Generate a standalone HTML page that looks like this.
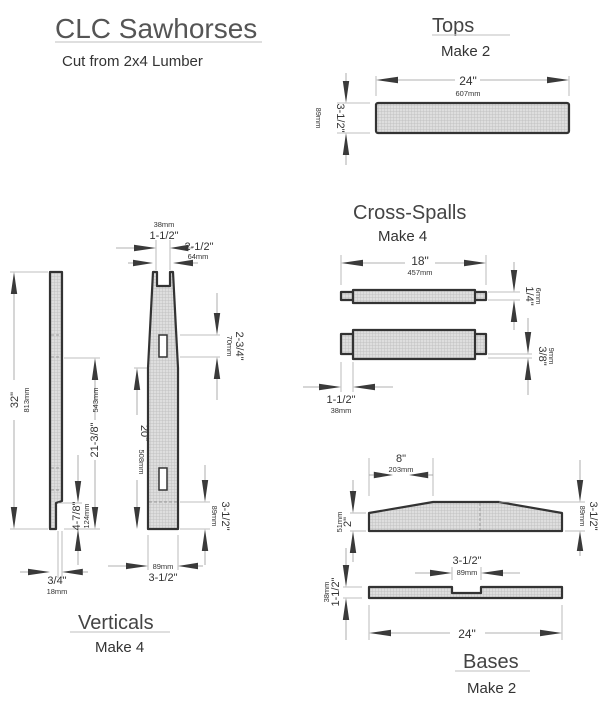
<!DOCTYPE html>
<html><head><meta charset="utf-8">
<style>
html,body{margin:0;padding:0;background:#fff;}
svg{display:block;}
text{font-family:"Liberation Sans",sans-serif;fill:#333;}
.t{font-size:11px;}
.s{font-size:7.5px;}
.h{font-size:20px;fill:#444;}
.m{font-size:15px;fill:#333;}
</style></head>
<body>
<svg id="d" width="605" height="702" viewBox="0 0 605 702" xmlns="http://www.w3.org/2000/svg">
<defs>
<pattern id="g" width="3" height="3" patternUnits="userSpaceOnUse">
<rect width="3" height="3" fill="#dedede"/>
<path d="M0 0H3M0 0V3" stroke="#bbbbbb" stroke-width="0.8"/>
</pattern>
</defs>
<!-- Titles -->
<text x="55" y="38" style="font-size:28px;fill:#555">CLC Sawhorses</text>
<line x1="55" y1="42" x2="262" y2="42" stroke="#ccc" stroke-width="1.2"/>
<text x="62" y="66" style="font-size:15px">Cut from 2x4 Lumber</text>

<text x="432" y="32" class="h">Tops</text>
<line x1="432" y1="35" x2="510" y2="35" stroke="#ccc" stroke-width="1.2"/>
<text x="441" y="56" class="m">Make 2</text>

<text x="353" y="219" class="h">Cross-Spalls</text>
<text x="378" y="241" class="m">Make 4</text>

<text x="78" y="629" class="h">Verticals</text>
<line x1="70" y1="632" x2="170" y2="632" stroke="#ccc" stroke-width="1.2"/>
<text x="95" y="652" class="m">Make 4</text>

<text x="463" y="668" class="h">Bases</text>
<line x1="455" y1="671" x2="530" y2="671" stroke="#ccc" stroke-width="1.2"/>
<text x="467" y="693" class="m">Make 2</text>

<g stroke="#333" stroke-width="2.2" fill="url(#g)" stroke-linejoin="round">
<rect x="376" y="103" width="193" height="30" rx="2"/>
<rect x="341" y="292" width="145" height="8"/>
<rect x="353" y="290" width="122" height="13"/>
<rect x="341" y="334" width="145" height="20"/>
<rect x="353" y="330" width="122" height="29"/>
<path d="M369 513 L433 502 L499 502 L562 513 L562 531 L369 531 Z"/>
<path d="M369 587 L452 587 L452 593 L481 593 L481 587 L562 587 L562 598 L369 598 Z"/>
<path d="M50 272 L62 272 L62 501 L56 503 L56 529 L50 529 Z"/>
<path d="M153 272 L157 272 L157 286 L170 286 L170 272 L173 272 L178 368 L178 529 L148 529 L148 368 Z"/>
</g>
<g stroke="#333" stroke-width="1.5" fill="#fff">
<rect x="159" y="335" width="8" height="22"/>
<rect x="159" y="468" width="8" height="22"/>
</g>
<g stroke="#888" stroke-width="0.8" stroke-dasharray="3,2" fill="none">
<line x1="480" y1="503" x2="480" y2="530"/>
<line x1="149" y1="502" x2="177" y2="502"/>
<line x1="51" y1="335" x2="61" y2="335"/>
<line x1="51" y1="357" x2="61" y2="357"/>
<line x1="51" y1="468" x2="61" y2="468"/>
<line x1="51" y1="490" x2="61" y2="490"/>
</g>

<g id="ext" stroke="#aaa" stroke-width="0.8">
<line x1="376" y1="76" x2="376" y2="96"/><line x1="569" y1="76" x2="569" y2="96"/>
<line x1="337" y1="103" x2="370" y2="103"/><line x1="337" y1="133" x2="370" y2="133"/>
<line x1="341" y1="255" x2="341" y2="285"/><line x1="486" y1="255" x2="486" y2="285"/>
<line x1="488" y1="292" x2="520" y2="292"/><line x1="488" y1="300" x2="520" y2="300"/>
<line x1="488" y1="354" x2="532" y2="354"/><line x1="488" y1="358" x2="532" y2="358"/>
<line x1="341" y1="362" x2="341" y2="392"/><line x1="353" y1="362" x2="353" y2="392"/>
<line x1="369" y1="458" x2="369" y2="496"/><line x1="433" y1="458" x2="433" y2="496"/>
<line x1="499" y1="502" x2="585" y2="502"/><line x1="565" y1="531" x2="585" y2="531"/>
<line x1="350" y1="513" x2="366" y2="513"/><line x1="350" y1="531" x2="366" y2="531"/>
<line x1="452" y1="567" x2="452" y2="580"/><line x1="481" y1="567" x2="481" y2="580"/>
<line x1="343" y1="587" x2="362" y2="587"/><line x1="343" y1="598" x2="362" y2="598"/>
<line x1="369" y1="605" x2="369" y2="640"/><line x1="562" y1="605" x2="562" y2="640"/>
<line x1="10" y1="272" x2="48" y2="272"/><line x1="10" y1="529" x2="48" y2="529"/>
<line x1="64" y1="358" x2="100" y2="358"/><line x1="64" y1="529" x2="100" y2="529"/>
<line x1="58" y1="503" x2="82" y2="503"/>
<line x1="58" y1="531" x2="58" y2="578"/><line x1="62" y1="531" x2="62" y2="578"/>
<line x1="156" y1="240" x2="156" y2="270"/><line x1="170" y1="240" x2="170" y2="270"/>
<line x1="180" y1="335" x2="220" y2="335"/><line x1="180" y1="357" x2="220" y2="357"/>
<line x1="134" y1="368" x2="147" y2="368"/>
<line x1="180" y1="502" x2="210" y2="502"/><line x1="180" y1="529" x2="210" y2="529"/>
<line x1="148" y1="535" x2="148" y2="570"/><line x1="178" y1="535" x2="178" y2="570"/>
</g>
<g id="arrows"></g>

<text x="468" y="85" class="t" text-anchor="middle" style="font-size:12px">24"</text>
<text x="468" y="96" class="s" text-anchor="middle">607mm</text>
<text transform="translate(337,118) rotate(90)" class="t" text-anchor="middle">3-1/2"</text>
<text transform="translate(316,118) rotate(90)" class="s" text-anchor="middle">89mm</text>

<text x="420" y="265" class="t" text-anchor="middle" style="font-size:12px">18"</text>
<text x="420" y="275" class="s" text-anchor="middle">457mm</text>
<text transform="translate(526,296) rotate(90)" class="t" text-anchor="middle">1/4"</text>
<text transform="translate(536,296) rotate(90)" class="s" text-anchor="middle">6mm</text>
<text transform="translate(539,356) rotate(90)" class="t" text-anchor="middle">3/8"</text>
<text transform="translate(549,356) rotate(90)" class="s" text-anchor="middle">9mm</text>
<text x="341" y="403" class="t" text-anchor="middle">1-1/2"</text>
<text x="341" y="413" class="s" text-anchor="middle">38mm</text>

<text x="401" y="462" class="t" text-anchor="middle">8"</text>
<text x="401" y="472" class="s" text-anchor="middle">203mm</text>
<text transform="translate(590,516) rotate(90)" class="t" text-anchor="middle">3-1/2"</text>
<text transform="translate(580,516) rotate(90)" class="s" text-anchor="middle">89mm</text>
<text transform="translate(351,522) rotate(-90)" class="t" text-anchor="middle">2"</text>
<text transform="translate(342,522) rotate(-90)" class="s" text-anchor="middle">51mm</text>
<text x="467" y="564" class="t" text-anchor="middle">3-1/2"</text>
<text x="467" y="575" class="s" text-anchor="middle">89mm</text>
<text transform="translate(339,592) rotate(-90)" class="t" text-anchor="middle">1-1/2"</text>
<text transform="translate(329,592) rotate(-90)" class="s" text-anchor="middle">38mm</text>
<text x="467" y="638" class="t" text-anchor="middle" style="font-size:12px">24"</text>

<text transform="translate(18,400) rotate(-90)" class="t" text-anchor="middle">32"</text>
<text transform="translate(29,400) rotate(-90)" class="s" text-anchor="middle">813mm</text>
<text transform="translate(98,440) rotate(-90)" class="t" text-anchor="middle">21-3/8"</text>
<text transform="translate(98,400) rotate(-90)" class="s" text-anchor="middle">543mm</text>
<text transform="translate(80,516) rotate(-90)" class="t" text-anchor="middle">4-7/8"</text>
<text transform="translate(89,516) rotate(-90)" class="s" text-anchor="middle">124mm</text>
<text x="57" y="584" class="t" text-anchor="middle">3/4"</text>
<text x="57" y="594" class="s" text-anchor="middle">18mm</text>

<text x="164" y="227" class="s" text-anchor="middle">38mm</text>
<text x="164" y="239" class="t" text-anchor="middle">1-1/2"</text>
<text x="199" y="250" class="t" text-anchor="middle">2-1/2"</text>
<text x="198" y="259" class="s" text-anchor="middle">64mm</text>
<text transform="translate(236,346) rotate(90)" class="t" text-anchor="middle">2-3/4"</text>
<text transform="translate(227,346) rotate(90)" class="s" text-anchor="middle">70mm</text>
<text transform="translate(141,433) rotate(90)" class="t" text-anchor="middle">20"</text>
<text transform="translate(139,462) rotate(90)" class="s" text-anchor="middle">508mm</text>
<text transform="translate(222,516) rotate(90)" class="t" text-anchor="middle">3-1/2"</text>
<text transform="translate(212,516) rotate(90)" class="s" text-anchor="middle">89mm</text>
<text x="163" y="569" class="s" text-anchor="middle">89mm</text>
<text x="163" y="581" class="t" text-anchor="middle">3-1/2"</text>
</svg>
<script>
(function(){
var g=document.getElementById('arrows'),out='';
function A(x1,y1,x2,y2){
 var dx=x2-x1,dy=y2-y1,L=Math.sqrt(dx*dx+dy*dy),ux=dx/L,uy=dy/L,px=-uy,py=ux;
 var hl=Math.min(22,L*0.8),hw=3.2;
 var bx=x2-ux*hl,by=y2-uy*hl;
 out+='<line x1="'+x1+'" y1="'+y1+'" x2="'+bx+'" y2="'+by+'" stroke="#999" stroke-width="0.8"/>';
 out+='<polygon fill="#3a3a3a" points="'+x2+','+y2+' '+(bx+px*hw)+','+(by+py*hw)+' '+(bx-px*hw)+','+(by-py*hw)+'"/>';
}
A(455,80,376,80);A(480,80,569,80);
A(346,73,346,103);A(346,165,346,133);
A(405,263,341,263);A(435,263,486,263);
A(514,262,514,292);A(514,330,514,300);
A(528,318,528,354);A(528,395,528,358);
A(303,387,341,387);A(393,387,353,387);
A(369,475,393,475);A(433,475,409,475);
A(580,460,580,502);A(580,556,580,531);
A(353,480,353,513);A(353,562,353,531);
A(415,573,452,573);A(520,573,481,573);
A(346,548,346,587);A(346,640,346,598);
A(450,633,369,633);A(485,633,562,633);
A(14,380,14,272);A(14,420,14,529);
A(95,420,95,358);A(95,460,95,529);
A(78,455,78,503);A(78,565,78,529);
A(20,572,50,572);A(88,572,62,572);
A(116,248,156,248);A(193,248,170,248);
A(128,263,153,263);A(198,263,173,263);
A(217,293,217,335);A(217,400,217,357);
A(137,415,137,368);A(137,480,137,529);
A(205,465,205,502);A(205,565,205,529);
A(108,566,148,566);A(203,566,178,566);
g.innerHTML=out;
})();
</script>
</body></html>
